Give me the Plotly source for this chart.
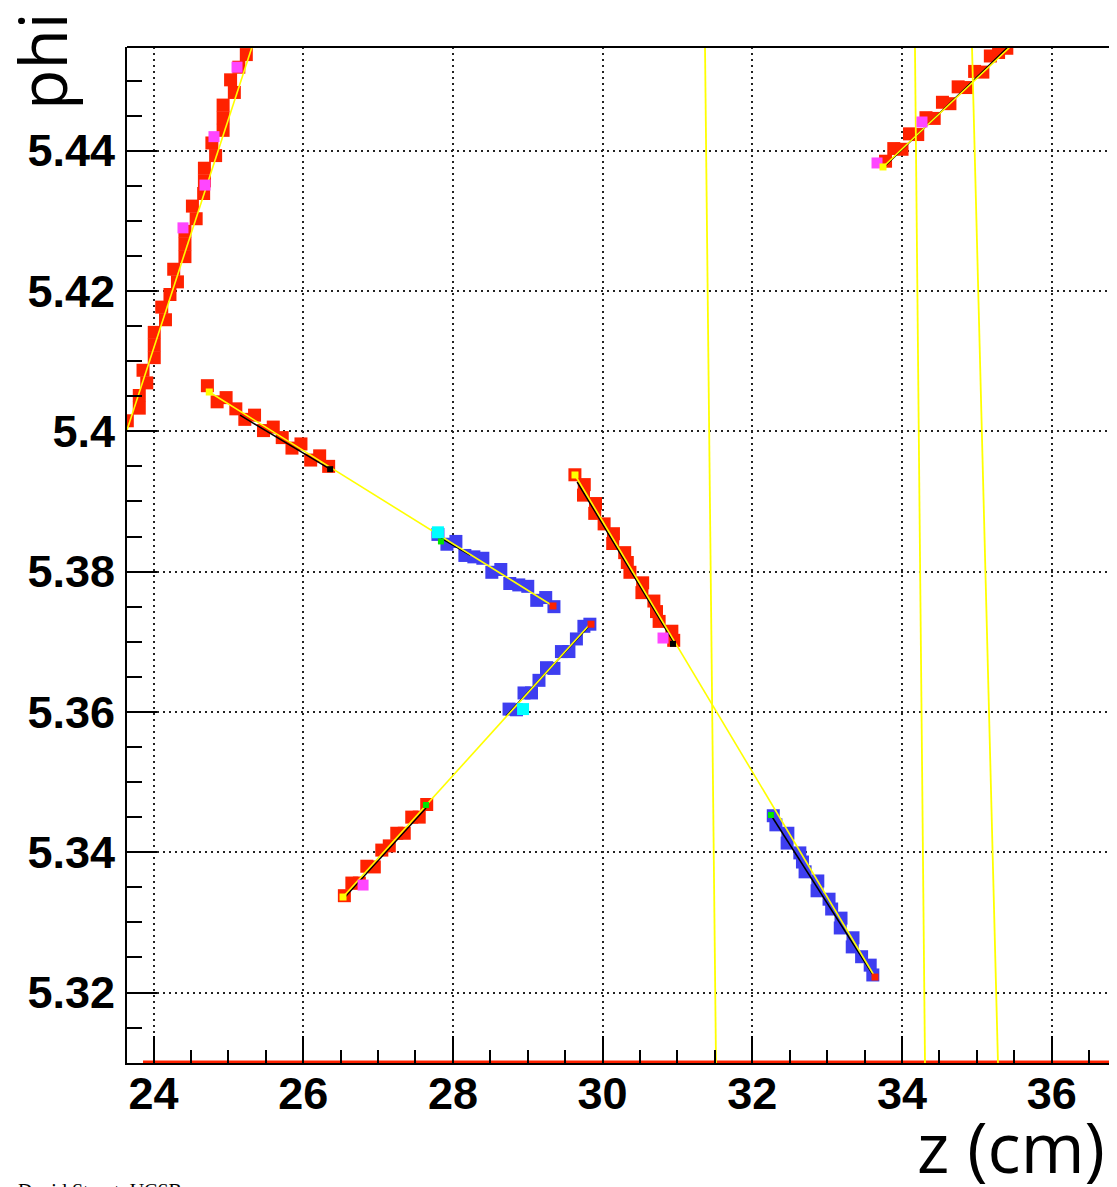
import plotly.graph_objects as go

# ---------------- axis ranges / ticks ----------------
Z_RANGE = [23.646, 36.979]
PHI_RANGE = [5.30995, 5.45478]
Z_TICK0, Z_DTICK, Z_MINOR = 24, 2, 0.5
PHI_TICK0, PHI_DTICK, PHI_MINOR = 5.32, 0.02, 0.005

# ---------------- hit clusters (z in cm, phi) ----------------
# A: red, steep, top-left
A_z = [23.65, 23.81, 23.81, 23.91, 23.86, 24.01, 24.01, 24.01, 24.16, 24.11,
       24.22, 24.32, 24.27, 24.42, 24.42, 24.42, 24.57, 24.52, 24.67, 24.68,
       24.68, 24.83, 24.78, 24.93, 24.93, 24.93, 25.08, 25.03, 25.14, 25.24]
A_phi = [5.4015, 5.4033, 5.4051, 5.4069, 5.4087, 5.4105, 5.4123, 5.4141, 5.4159, 5.4177,
         5.4195, 5.4213, 5.4231, 5.4249, 5.4267, 5.4285, 5.4303, 5.4321, 5.4339, 5.4357,
         5.4375, 5.4393, 5.4411, 5.4429, 5.4447, 5.4465, 5.4483, 5.4501, 5.4519, 5.4537]
# B: red, shallow descending
B_z = [24.72, 24.85, 24.97, 25.10, 25.22, 25.35, 25.47, 25.60, 25.72, 25.85, 25.97, 26.10, 26.22, 26.34]
B_phi = [5.4065, 5.4042, 5.4048, 5.4032, 5.4017, 5.4023, 5.4001, 5.4006, 5.3991, 5.3976,
         5.3982, 5.3959, 5.3965, 5.3950]
# C: blue, shallow descending
C_z = [27.80, 27.92, 28.04, 28.16, 28.28, 28.40, 28.52, 28.64, 28.76, 28.88, 29.00, 29.12, 29.24, 29.35]
C_phi = [5.3853, 5.3839, 5.3843, 5.3823, 5.3821, 5.3819, 5.3799, 5.3803, 5.3783, 5.3781,
         5.3779, 5.3759, 5.3763, 5.3750]
# D: blue, rising
D_z = [28.75, 28.85, 28.95, 29.05, 29.15, 29.25, 29.35, 29.45, 29.55, 29.65, 29.75, 29.83]
D_phi = [5.3604, 5.3603, 5.3627, 5.3627, 5.3645, 5.3663, 5.3662, 5.3686, 5.3686, 5.3704, 5.3722, 5.3725]
# E: red, rising (lower)
E_z = [26.55, 26.65, 26.75, 26.85, 26.95, 27.05, 27.15, 27.25, 27.35, 27.45, 27.55, 27.65]
E_phi = [5.3338, 5.3356, 5.3356, 5.3380, 5.3379, 5.3403, 5.3409, 5.3427, 5.3427, 5.3450, 5.3450, 5.3468]
# F: red, steep descending (centre)
F_z = [29.63, 29.755, 29.745, 29.905, 29.895, 30.02, 30.145, 30.135, 30.295, 30.33,
       30.365, 30.535, 30.525, 30.685, 30.72, 30.755, 30.925, 30.95]
F_phi = [5.3938, 5.3924, 5.3909, 5.3897, 5.3883, 5.3868, 5.3854, 5.3840, 5.3827, 5.3813,
         5.3799, 5.3784, 5.3770, 5.3758, 5.3743, 5.3729, 5.3715, 5.3702]
# G: blue, steep descending (lower right)
G_z = [32.28, 32.315, 32.475, 32.465, 32.635, 32.67, 32.705, 32.875, 32.865, 33.025,
       33.06, 33.185, 33.175, 33.345, 33.335, 33.46, 33.575, 33.61]
G_phi = [5.3452, 5.3439, 5.3427, 5.3413, 5.3399, 5.3386, 5.3372, 5.3359, 5.3345, 5.3333,
         5.3319, 5.3306, 5.3292, 5.3278, 5.3265, 5.3251, 5.3239, 5.3225]
# H: red, rising (top right)
H_z = [33.78, 33.89, 34.00, 34.10, 34.21, 34.32, 34.43, 34.54, 34.64, 34.75,
       34.86, 34.97, 35.08, 35.18, 35.29, 35.40]
H_phi = [5.4385, 5.4403, 5.4402, 5.4424, 5.4423, 5.4447, 5.4446, 5.4469, 5.4467, 5.4491,
         5.4490, 5.4513, 5.4512, 5.4535, 5.4540, 5.4546]

# special hits
MAG_z = [25.116, 24.808, 24.688, 24.394, 26.80, 30.807, 33.666, 34.267]
MAG_phi = [5.4519, 5.4420, 5.4351, 5.4290, 5.33532, 5.37053, 5.43825, 5.44409]
CYAN_z = [27.80, 28.937]
CYAN_phi = [5.3856, 5.3604]
GREEN_z = [27.84, 27.64, 32.249]
GREEN_phi = [5.3843, 5.34673, 5.3453]
REDEND_z = [29.337, 29.845, 33.639]
REDEND_phi = [5.3751, 5.3725, 5.3222]
YELEND_z = [24.745, 26.532, 29.631, 33.746]
YELEND_phi = [5.4056, 5.33361, 5.39377, 5.43768]
BLKEND_z = [26.36, 30.94]
BLKEND_phi = [5.3946, 5.3697]

# fitted segments (black)
BLACK_SEGS = [
    ([25.156, 26.359], [5.40229, 5.39462]),
    ([27.84, 28.23], [5.38478, 5.38236]),
    ([28.710, 29.845], [5.35941, 5.37253]),
    ([26.559, 27.641], [5.33361, 5.34630]),
    ([29.66, 30.98], [5.39277, 5.36939]),
    ([32.249, 33.639], [5.34530, 5.32206]),
    ([33.773, 35.416], [5.43782, 5.45478]),
]
# fitted tracks (yellow)
YELLOW_SEGS = [
    ([23.646, 25.316], [5.40018, 5.45478]),
    ([24.745, 29.337], [5.4056, 5.3751]),
    ([29.845, 26.532], [5.37267, 5.33361]),
    ([29.631, 33.639], [5.39377, 5.32221]),
    ([33.746, 35.443], [5.43768, 5.45478]),
]
# near-vertical yellow lines
VERT_SEGS = [
    ([31.368, 31.515], [5.45478, 5.30995]),
    ([34.173, 34.307], [5.45478, 5.30995]),
    ([34.935, 35.282], [5.45478, 5.30995]),
]
# red line along bottom
BOTTOM_z = [23.86, 36.979]
BOTTOM_phi = [5.3101, 5.3101]

RED = "rgb(255,34,0)"
BLUE = "rgb(62,62,240)"

fig = go.Figure()

fig.add_trace(go.Scatter(x=BOTTOM_z, y=BOTTOM_phi, mode="lines",
                         line=dict(color=RED, width=3), hoverinfo="skip"))

for zz, pp, col in [(A_z, A_phi, RED), (B_z, B_phi, RED), (C_z, C_phi, BLUE),
                    (D_z, D_phi, BLUE), (E_z, E_phi, RED), (F_z, F_phi, RED),
                    (G_z, G_phi, BLUE), (H_z, H_phi, RED)]:
    fig.add_trace(go.Scatter(x=zz, y=pp, mode="markers",
                             marker=dict(symbol="square", size=13, color=col,
                                         line=dict(width=0))))

for zz, pp in BLACK_SEGS:
    fig.add_trace(go.Scatter(x=zz, y=pp, mode="lines",
                             line=dict(color="black", width=1.5)))
for zz, pp in YELLOW_SEGS:
    fig.add_trace(go.Scatter(x=zz, y=pp, mode="lines",
                             line=dict(color="rgb(255,255,0)", width=1.6)))
for zz, pp in VERT_SEGS:
    fig.add_trace(go.Scatter(x=zz, y=pp, mode="lines",
                             line=dict(color="rgb(255,255,0)", width=1.8)))

for zz, pp, col, sz in [(MAG_z, MAG_phi, "rgb(255,70,255)", 11),
                        (CYAN_z, CYAN_phi, "rgb(0,255,255)", 12),
                        (GREEN_z, GREEN_phi, "rgb(0,230,0)", 6),
                        (REDEND_z, REDEND_phi, RED, 7),
                        (YELEND_z, YELEND_phi, "rgb(255,255,0)", 7),
                        (BLKEND_z, BLKEND_phi, "black", 6)]:
    fig.add_trace(go.Scatter(x=zz, y=pp, mode="markers",
                             marker=dict(symbol="square", size=sz, color=col,
                                         line=dict(width=0))))

tickfont = dict(family="Liberation Sans", size=45, color="black", weight="bold")
fig.update_layout(
    width=1117, height=1187,
    margin=dict(l=119, r=0, t=39, b=132),
    paper_bgcolor="white", plot_bgcolor="white",
    showlegend=False,
    xaxis=dict(range=Z_RANGE, tick0=Z_TICK0, dtick=Z_DTICK, ticks="inside",
               ticklen=27, tickwidth=2, tickcolor="black",
               showline=True, linecolor="black", linewidth=2, mirror=False,
               showgrid=True, gridcolor="#222", gridwidth=1.5, griddash="2px,4px",
               zeroline=False, tickfont=tickfont, ticklabelstandoff=-10,
               minor=dict(dtick=Z_MINOR, ticks="inside", ticklen=13, tickwidth=2,
                          tickcolor="black", showgrid=False)),
    yaxis=dict(range=PHI_RANGE, tick0=PHI_TICK0, dtick=PHI_DTICK, ticks="inside",
               ticklen=30, tickwidth=2, tickcolor="black",
               showline=True, linecolor="black", linewidth=2, mirror=False,
               showgrid=True, gridcolor="#222", gridwidth=1.5, griddash="2px,4px",
               zeroline=False, tickfont=tickfont, ticklabelstandoff=1,
               minor=dict(dtick=PHI_MINOR, ticks="inside", ticklen=15, tickwidth=2,
                          tickcolor="black", showgrid=False)),
    shapes=[dict(type="line", xref="paper", yref="paper", x0=0, x1=1, y0=1, y1=1,
                 line=dict(color="black", width=2))],
    annotations=[
        dict(text="phi", xref="paper", yref="paper", x=-0.0862, y=1.0364,
             xanchor="center", yanchor="top", textangle=-90, showarrow=False,
             font=dict(family="Open Sans", size=66, color="black")),
        dict(text="z (cm)", xref="paper", yref="paper", x=0.982, y=-0.0335,
             xanchor="right", yanchor="top", showarrow=False,
             font=dict(family="Open Sans", size=69, color="black")),
        dict(text="David Stuart, UCSB", xref="paper", yref="paper", x=-0.111, y=-0.1132,
             xanchor="left", yanchor="top", showarrow=False,
             font=dict(family="Liberation Serif", size=20, color="black")),
    ],
)

fig.write_html("out.html")
